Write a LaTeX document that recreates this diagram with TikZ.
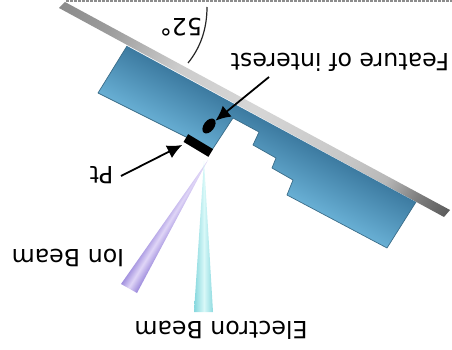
\documentclass[tikz,border=0pt]{standalone}
\usepackage{fontspec}
\setmainfont{DejaVu Sans}
\usetikzlibrary{arrows.meta,shapes.geometric}
\definecolor{blueedge}{HTML}{3A6C88}
\definecolor{bluedark}{HTML}{3D7BA1}
\definecolor{bluelight}{HTML}{68AFD4}
\definecolor{ionedge}{HTML}{9C8ADC}
\definecolor{ionmid}{HTML}{E0D6F7}
\definecolor{elecedge}{HTML}{88D8DE}
\definecolor{elecmid}{HTML}{D8F8F8}
\definecolor{pa}{gray}{0.42}
\definecolor{pb}{gray}{0.55}
\definecolor{pc}{gray}{0.80}
\definecolor{pd}{gray}{0.84}
\definecolor{pe}{gray}{0.78}
\definecolor{pf}{gray}{0.72}
\definecolor{pg}{gray}{0.50}
\definecolor{ph}{gray}{0.36}
% the central 50bp (25..75) of a shading spans the shaded square
\pgfdeclarehorizontalshading{plateshade}{100bp}{
  color(0bp)=(pb); color(25bp)=(pb); color(31bp)=(pb!75!pc); color(40bp)=(pc); color(50bp)=(pd);
  color(62bp)=(pe); color(67bp)=(pf); color(71bp)=(pg); color(75bp)=(ph); color(100bp)=(ph)}
\pgfdeclareverticalshading{specshade}{100bp}{
  color(0bp)=(bluelight); color(47.3bp)=(bluelight); color(52.7bp)=(bluedark); color(100bp)=(bluedark)}
\pgfdeclarehorizontalshading{ionshade}{100bp}{
  color(0bp)=(ionedge); color(47.1bp)=(ionedge); color(50bp)=(ionmid); color(52.9bp)=(ionedge); color(100bp)=(ionedge)}
\pgfdeclarehorizontalshading{elecshade}{100bp}{
  color(0bp)=(elecedge); color(47bp)=(elecedge); color(50bp)=(elecmid); color(53bp)=(elecedge); color(100bp)=(elecedge)}
\tikzset{
  caption/.style={rotate=180,inner sep=0pt,font=\fontsize{23.7}{28}\selectfont,text=black},
  pointer/.style={line width=1.8pt,black,-{Latex[length=15pt,width=14pt]}},
  blackmark/.style={fill=black,draw=none,inner sep=0pt},
}
\begin{document}
\begin{tikzpicture}[x=1pt,y=-1pt]
\useasboundingbox (0,0) rectangle (452,350);
% horizontal reference line
\coordinate (refa) at (66,1.5);
\coordinate (refb) at (452,1.5);
\draw[black!45,line width=2pt,dash pattern=on 2.5pt off 1.5pt] (refa) -- (refb);
% angle arc
\coordinate (arca) at (207,7);
\coordinate (arcb) at (188,63);
\draw[black!85,line width=1.2pt] (arca) .. controls (207,28) and (201,47) .. (arcb);
% plate
\begin{scope}
  \clip (65,2) -- (450,210) -- (444,217) -- (59,8) -- cycle;
  \shade[shading=plateshade,shading angle=-28.45] (35,-110) rectangle (475,330);
\end{scope}
% specimen
\begin{scope}
  \clip (127,46) -- (98,93) -- (212,150) -- (233,118) -- (259,132) -- (253,145) -- (276,158) -- (272,168) -- (293,180) -- (287,195) -- (387,248) -- (416,202) -- cycle;
  \shade[shading=specshade,shading angle=-28.2] (8,-102) rectangle (508,398);
\end{scope}
\draw[blueedge,line width=0.7pt,line join=round] (127,46) -- (98,93) -- (212,150) -- (233,118) -- (259,132) -- (253,145) -- (276,158) -- (272,168) -- (293,180) -- (287,195) -- (387,248) -- (416,202);
% marks
\node[blackmark,ellipse,minimum width=17pt,minimum height=10.5pt,rotate=53] (feature) at (209,126) {};
\node[blackmark,rectangle,minimum width=29pt,minimum height=9pt,rotate=-31] (ptblock) at (198.3,145.5) {};
% ion beam
\begin{scope}
  \clip (208,160) -- (121,284) -- (137,293) -- cycle;
  \shade[shading=ionshade,shading angle=-31.7] (88,144) rectangle (248,304);
\end{scope}
% electron beam
\begin{scope}
  \clip (204,161) -- (194,312) -- (213,312) -- cycle;
  \shade[shading=elecshade] (124,156) rectangle (284,316);
\end{scope}
% labels
\node[caption] (lfeature) at (340,62.5) {Feature of interest};
\node[caption] (langle) at (181,27) {52°};
\node[caption] (lpt) at (101.5,175.5) {Pt};
\node[caption] (lion) at (68,257.5) {Ion Beam};
\node[caption] (lelec) at (221,330) {Electron Beam};
% pointers
\coordinate (fstart) at (269,77);
\coordinate (pstart) at (121,176);
\draw[pointer] (fstart) -- (feature);
\draw[pointer] (pstart) -- ([shift={(-1,3)}]ptblock.south west);
\end{tikzpicture}
\end{document}
